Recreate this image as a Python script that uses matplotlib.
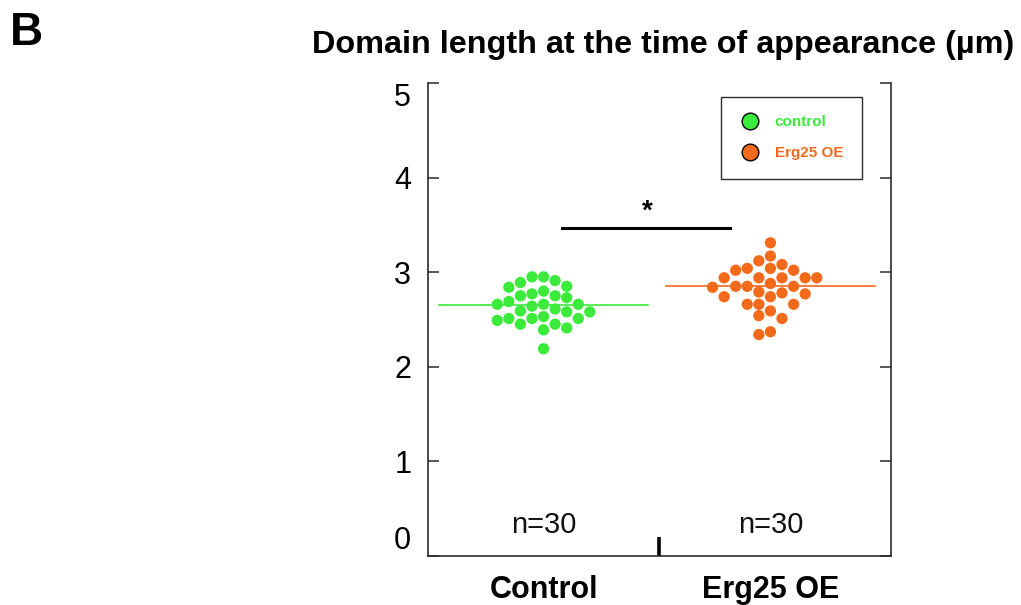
import numpy as np
import matplotlib.pyplot as plt
from matplotlib.lines import Line2D

# values (um)
groups = ["Control", "Erg25 OE"]
legend_names = ["control", "Erg25 OE"]
control = [2.95, 2.91, 2.89, 2.95, 2.84, 2.85, 2.80, 2.77, 2.75, 2.73, 2.75,
           2.66, 2.66, 2.61, 2.58, 2.58, 2.59, 2.64, 2.66, 2.69,
           2.51, 2.51, 2.45, 2.41, 2.39, 2.45, 2.49, 2.51, 2.53, 2.19]
erg25 = [3.31, 3.17, 3.08, 3.12, 3.04, 3.02, 3.02, 3.04,
         2.94, 2.94, 2.94, 2.94, 2.94, 2.85, 2.85, 2.84, 2.85, 2.88,
         2.78, 2.74, 2.74, 2.77, 2.79, 2.66, 2.66, 2.66, 2.59,
         2.51, 2.54, 2.37, 2.34]
n_labels = ["n=30", "n=30"]
sig_label = "*"

green = "#3cea3c"
orange = "#f26a1a"
dark = "#2b2b2b"


def column_offsets(values, step, min_gap):
    # simple column beeswarm: each point goes to the nearest free column
    values = np.asarray(values)
    order = np.argsort(values)[::-1]
    cols = {}
    offs = np.zeros(len(values))
    cand = [0] + [s * j for j in range(1, 20) for s in (-1, 1)]
    for i in order:
        v = values[i]
        for c in cand:
            if all(abs(v - u) >= min_gap for u in cols.get(c, [])):
                break
        cols.setdefault(c, []).append(v)
        offs[i] = c * step
    return offs


plt.rcParams['font.family'] = ['Liberation Sans', 'DejaVu Sans']

fig = plt.figure(figsize=(10.21, 6.05), dpi=100)
ax = fig.add_axes([0.419, 0.081, 0.4535, 0.782])

centers = [0.5, 1.48]
for data, xc, col in zip([control, erg25], centers, [green, orange]):
    offs = column_offsets(data, 0.05, 0.12)
    ax.scatter(xc + offs, data, s=66, color=col, edgecolors='none', zorder=3)
    med = np.median(data)
    ax.plot([xc - 0.45, xc + 0.45], [med, med], color=col, lw=1.2, zorder=2)

for xc, lab in zip(centers, n_labels):
    ax.text(xc, 0.33, lab, ha='center', va='center', fontsize=21, color='#111')

# significance bar
ax.plot([0.58, 1.305], [3.47, 3.47], color='black', lw=2.2)
ax.text(0.95, 3.50, sig_label, ha='center', va='bottom', fontsize=20,
        fontweight='bold')

ax.set_xlim(0, 2)
ax.set_ylim(0, 5)
ax.spines['top'].set_visible(False)
for s in ['left', 'right', 'bottom']:
    ax.spines[s].set_color(dark)
    ax.spines[s].set_linewidth(1.2)

ax.set_yticks(range(6))
ax.tick_params(axis='y', direction='in', length=8, width=1.1, color=dark,
               labelsize=22, pad=12, right=True)
ylabels = ax.get_yticklabels()
ylabels[0].set_va('bottom')
ylabels[-1].set_va('top')

ax.set_xticks(centers)
ax.set_xticklabels(groups, fontsize=22, fontweight='bold')
ax.tick_params(axis='x', length=0, pad=14)
ax.set_xticks([1.0], minor=True)
ax.tick_params(axis='x', which='minor', direction='in', length=14, width=2.6,
               color='black')

handles = [Line2D([], [], marker='o', ls='none', markersize=12,
                  markerfacecolor=c, markeredgecolor='black', markeredgewidth=1)
           for c in [green, orange]]
leg = ax.legend(handles, legend_names, loc='upper right',
                bbox_to_anchor=(0.937, 0.97), borderaxespad=0, fancybox=False,
                edgecolor=dark, framealpha=1, prop={'weight': 'bold', 'size': 11},
                borderpad=1.2, handletextpad=0.9, labelspacing=1.1,
                handlelength=1.4)
leg.get_frame().set_linewidth(1.0)
for t, c in zip(leg.get_texts(), [green, orange]):
    t.set_color(c)

fig.text(0.649, 0.925, "Domain length at the time of appearance (\u00b5m)",
         ha='center', va='center', fontsize=23.3, fontweight='bold')
fig.text(0.01, 0.945, "B", ha='left', va='center', fontsize=33,
         fontweight='bold')

fig.savefig("out.png", dpi=100)
